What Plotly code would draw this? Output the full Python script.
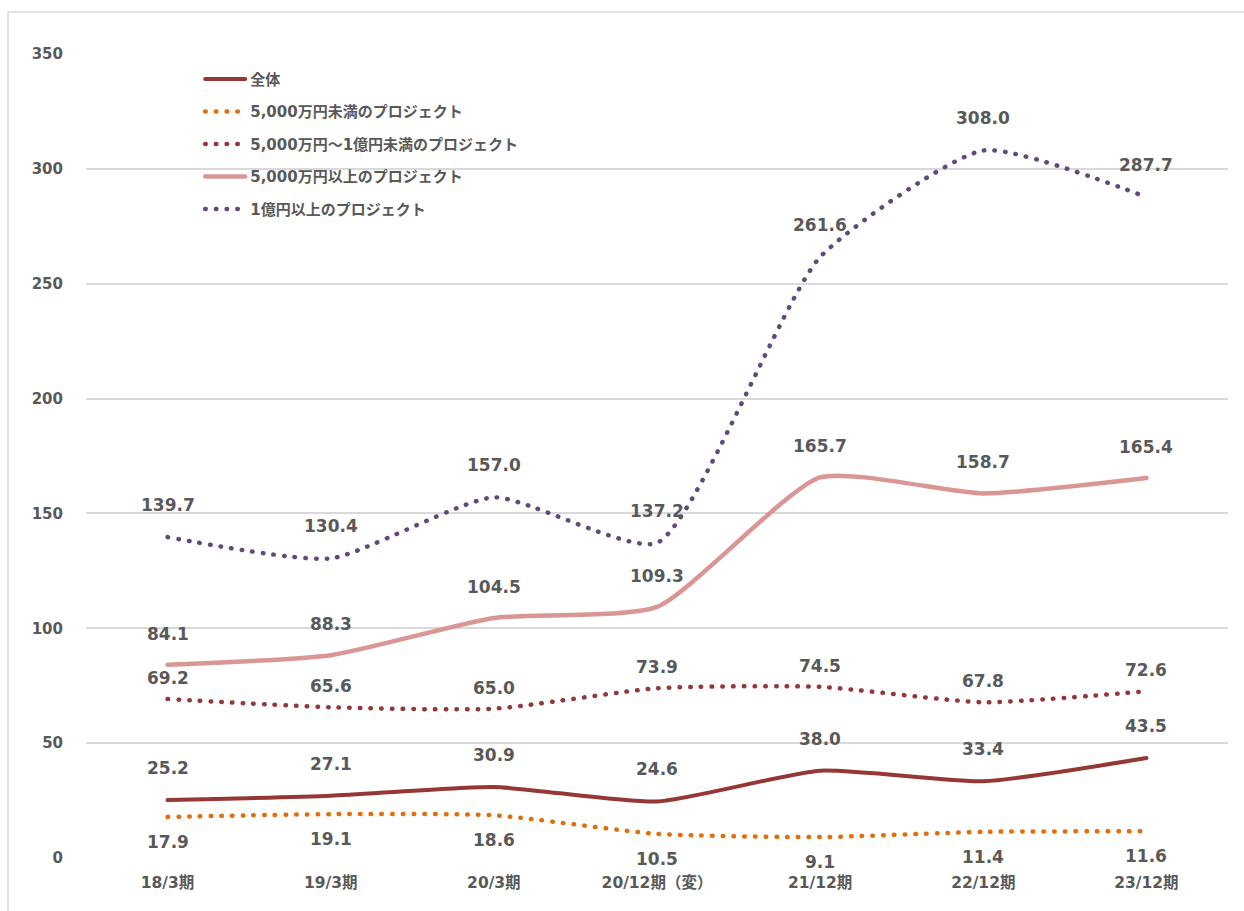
import plotly.graph_objects as go

categories = ["18/3期", "19/3期", "20/3期", "20/12期（変）", "21/12期", "22/12期", "23/12期"]
series_names = ["全体", "5,000万円未満のプロジェクト", "5,000万円～1億円未満のプロジェクト",
                "5,000万円以上のプロジェクト", "1億円以上のプロジェクト"]
total = [25.2, 27.1, 30.9, 24.6, 38.0, 33.4, 43.5]
under_50m = [17.9, 19.1, 18.6, 10.5, 9.1, 11.4, 11.6]
from_50m_to_100m = [69.2, 65.6, 65.0, 73.9, 74.5, 67.8, 72.6]
over_50m = [84.1, 88.3, 104.5, 109.3, 165.7, 158.7, 165.4]
over_100m = [139.7, 130.4, 157.0, 137.2, 261.6, 308.0, 287.7]
y_ticks = [0, 50, 100, 150, 200, 250, 300, 350]

FONT = "DejaVu Sans, Noto Sans CJK JP, sans-serif"
GRAY = "#595959"

styles = [
    dict(color="#953735", dash="solid", width=4, shift=32),
    dict(color="#E46C0A", dash="0.5px,10.2px", width=4.5, shift=-25),
    dict(color="#953735", dash="0.5px,10.2px", width=4.5, shift=21),
    dict(color="#D99694", dash="solid", width=4.5, shift=31),
    dict(color="#604A7B", dash="0.5px,10.2px", width=4.5, shift=32),
]
all_series = [total, under_50m, from_50m_to_100m, over_50m, over_100m]

fig = go.Figure()
annotations = []
for name, vals, st in zip(series_names, all_series, styles):
    fig.add_trace(go.Scatter(
        x=categories, y=vals, name=name, mode="lines", legendgroup=name,
        line=dict(color=st["color"], width=st["width"], dash=st["dash"], shape="spline", smoothing=0.55),
        hoverinfo="skip",
    ))
    for c, v in zip(categories, vals):
        annotations.append(dict(
            x=c, y=v, xref="x", yref="y", text=f"{v:.1f}", showarrow=False,
            yshift=st["shift"], yanchor="middle", xanchor="center",
            font=dict(family=FONT, size=17, color=GRAY, weight="bold"),
        ))

fig.update_layout(
    width=1244, height=911,
    margin=dict(l=86, r=16, t=54, b=53),
    paper_bgcolor="white", plot_bgcolor="white",
    font=dict(family=FONT, color=GRAY),
    showlegend=True,
    legend=dict(
        x=0.1, y=0.989, xanchor="left", yanchor="top",
        bgcolor="rgba(255,255,255,0)",
        font=dict(family=FONT, size=15, color=GRAY, weight="bold"),
        tracegroupgap=10, itemwidth=40,
    ),
    annotations=annotations,
    shapes=[dict(type="rect", xref="paper", yref="paper",
                 x0=-0.0683, x1=1.2, y0=-0.2, y1=1.0522,
                 line=dict(color="#D9D9D9", width=1.5), fillcolor="rgba(0,0,0,0)", layer="below")],
)
fig.update_xaxes(
    type="category", range=[-0.5, 6.5], showgrid=False, showline=False, zeroline=False,
    ticks="", tickfont=dict(family=FONT, size=15.5, color=GRAY, weight="bold"),
    ticklabelstandoff=13, fixedrange=True,
)
fig.update_yaxes(
    range=[0, 350], tickvals=y_ticks, showgrid=True, gridcolor="#D9D9D9", gridwidth=1.5,
    zeroline=False, showline=False, ticks="",
    tickfont=dict(family=FONT, size=15, color=GRAY, weight="bold"),
    ticklabelstandoff=22, fixedrange=True,
)

post = "document.querySelectorAll('.js-line').forEach(function(p){p.style.strokeLinecap='round';});"
fig.write_html("out.html", post_script=post, config={"displayModeBar": False})
